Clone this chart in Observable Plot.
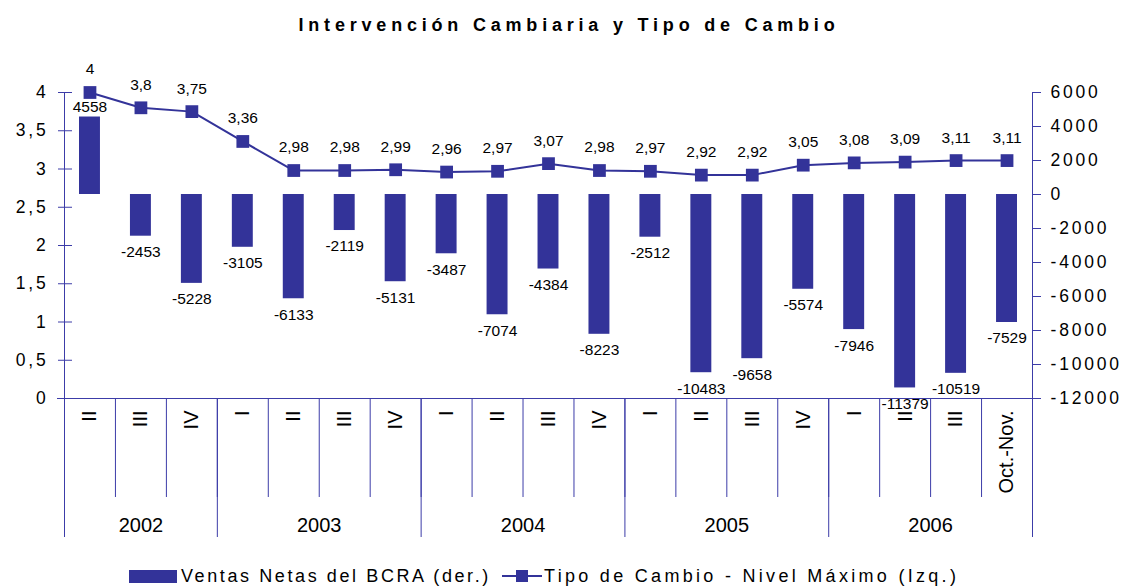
<!DOCTYPE html>
<html><head><meta charset="utf-8">
<script src="https://cdn.jsdelivr.net/npm/d3@7"></script>
<script src="https://cdn.jsdelivr.net/npm/@observablehq/plot@0.6"></script>
<style>
body{margin:0;background:#fff;font-family:"Liberation Sans",Arial,sans-serif;}
#wrap{position:relative;width:1121px;height:587px;overflow:hidden;background:#fff}
#title{height:50px;box-sizing:border-box;padding-top:14px;line-height:22px;font-size:18px;font-weight:bold;letter-spacing:4.8px;text-align:center;padding-left:17px;color:#000}
#chart svg{display:block}
.lg{position:absolute;font-family:"Liberation Sans",Arial,sans-serif;font-size:18px;line-height:20px;color:#000;white-space:nowrap}
</style></head><body>
<div id="wrap">
<div id="title">Intervención Cambiaria y Tipo de Cambio</div>
<div id="chart"></div>
<div style="position:absolute;left:129px;top:570px;width:48px;height:13px;background:#333399"></div>
<div class="lg" style="left:181px;top:566px;letter-spacing:2.6px">Ventas Netas del BCRA (der.)</div>
<div style="position:absolute;left:502px;top:575px;width:40px;height:2px;background:#333399"></div>
<div style="position:absolute;left:516px;top:570px;width:12px;height:12px;background:#333399"></div>
<div class="lg" style="left:544px;top:566px;letter-spacing:3.3px">Tipo de Cambio - Nivel Máximo (Izq.)</div>
</div>
<script>
const years = ["2002","2002","2002","2003","2003","2003","2003","2004","2004","2004","2004","2005","2005","2005","2005","2006","2006","2006","2006"];
const periods = ["II","III","IV","I","II","III","IV","I","II","III","IV","I","II","III","IV","I","II","III","Oct.-Nov."];
const ventas = [4558,-2453,-5228,-3105,-6133,-2119,-5131,-3487,-7074,-4384,-8223,-2512,-10483,-9658,-5574,-7946,-11379,-10519,-7529];
const tipo = [4,3.8,3.75,3.36,2.98,2.98,2.99,2.96,2.97,3.07,2.98,2.97,2.92,2.92,3.05,3.08,3.09,3.11,3.11];
const leftTicks = [0,0.5,1,1.5,2,2.5,3,3.5,4];
const rightTicks = [6000,4000,2000,0,-2000,-4000,-6000,-8000,-10000,-12000];
const yearLabels = ["2002","2003","2004","2005","2006"];

const W = 1121, H = 500, mL = 64, mR = 89, mT = 42, mB = 152;
const bw = (W - mL - mR) / ventas.length;
const pxPerUnit = (H - mT - mB) / 4;
const R0 = -12000, R1 = 6000;
const toLeft = v => (v - R0) / (R1 - R0) * 4;
const below = px => -px / pxPerUnit;
const data = ventas.map((v, i) => ({id: years[i] + " " + periods[i], year: years[i], period: periods[i], v, t: tipo[i], i}));
const ids = data.map(d => d.id);
const color = "#333399";
const axisColor = "#3c3ca8";
const comma = d => String(d).replace(".", ",");

const groupStarts = data.filter((d, i) => i > 0 && d.year !== data[i - 1].year);
const yearMid = yearLabels.map(y => {
  const g = data.filter(d => d.year === y);
  return {year: y, id: g[Math.floor((g.length - 1) / 2)].id, even: g.length % 2 === 0};
});

const plot = Plot.plot({
  width: W, height: H,
  marginLeft: mL, marginRight: mR, marginTop: mT, marginBottom: mB,
  style: {fontFamily: "Liberation Sans, Arial, sans-serif", background: "#fff", color: "#000", overflow: "visible"},
  x: {domain: ids, padding: 0, round: false, axis: null},
  y: {domain: [0, 4], label: null},
  marks: [
    Plot.ruleX(data.slice(1), {x: "id", dx: -bw / 2, y1: 0, y2: below(99), stroke: axisColor}),
    Plot.ruleX(groupStarts, {x: "id", dx: -bw / 2, y1: 0, y2: below(139), stroke: axisColor}),
    Plot.ruleX(data.slice(0, 1), {x: "id", dx: -bw / 2, y1: 4, y2: below(139), stroke: axisColor}),
    Plot.ruleX(data.slice(-1), {x: "id", dx: bw / 2, y1: toLeft(R1), y2: below(139), stroke: axisColor}),
    Plot.ruleY([0], {stroke: axisColor, insetLeft: -7, insetRight: -8}),
    Plot.axisY({ticks: leftTicks, tickFormat: comma, tickSize: 14, dx: 8, tickPadding: 10, stroke: axisColor, fill: "#000", fontSize: 17.5, label: null}),
    Plot.axisY({anchor: "right", ticks: rightTicks.map(toLeft), tickFormat: d => String(Math.round(d / 4 * (R1 - R0) + R0)), tickSize: 8, tickPadding: 10, stroke: axisColor, fill: "#000", fontSize: 17.5, label: null}),
    Plot.barY(data, {x: "id", y1: toLeft(0), y2: d => toLeft(d.v), fill: color, insetLeft: 15, insetRight: 15}),
    Plot.line(data, {x: "id", y: "t", stroke: color, strokeWidth: 2}),
    Plot.dot(data, {x: "id", y: "t", symbol: "square", fill: color, r: 7.2}),
    Plot.text(data, {x: "id", y: "t", text: d => comma(d.t), dy: -23, fontSize: 15.5, fill: "#000", ariaLabel: "line-labels"}),
    Plot.text(data.filter(d => d.v >= 0), {x: "id", y: d => toLeft(d.v), text: d => String(d.v), dy: -10, fontSize: 15.5, fill: "#000", ariaLabel: "bar-labels"}),
    Plot.text(data.filter(d => d.v < 0), {x: "id", y: d => toLeft(d.v), text: d => String(d.v), dy: 16, fontSize: 15.5, fill: "#000", ariaLabel: "bar-labels"}),
    Plot.text(data, {x: "id", y: 0, text: "period", rotate: -90, textAnchor: "end", dy: 12, fontSize: 20, fill: "#000", ariaLabel: "period-labels"}),
    Plot.text(yearMid.filter(d => !d.even), {x: "id", y: 0, text: "year", dy: 127, fontSize: 20, fill: "#000", ariaLabel: "year-labels"}),
    Plot.text(yearMid.filter(d => d.even), {x: "id", y: 0, text: "year", dx: bw / 2, dy: 127, fontSize: 20, fill: "#000", ariaLabel: "year-labels"})
  ]
});
document.getElementById("chart").appendChild(plot);
const sel = d3.select(plot);
sel.selectAll('g[aria-label="y-axis tick label"] text').style("letter-spacing", "2.8px");
sel.selectAll('g[aria-label="year-labels"] text').style("letter-spacing", "1px");
sel.selectAll('g[aria-label="line-labels"] text').style("letter-spacing", "0.5px");
sel.selectAll('g[aria-label="bar-labels"] text').style("letter-spacing", "1.5px");
</script>
</body></html>
